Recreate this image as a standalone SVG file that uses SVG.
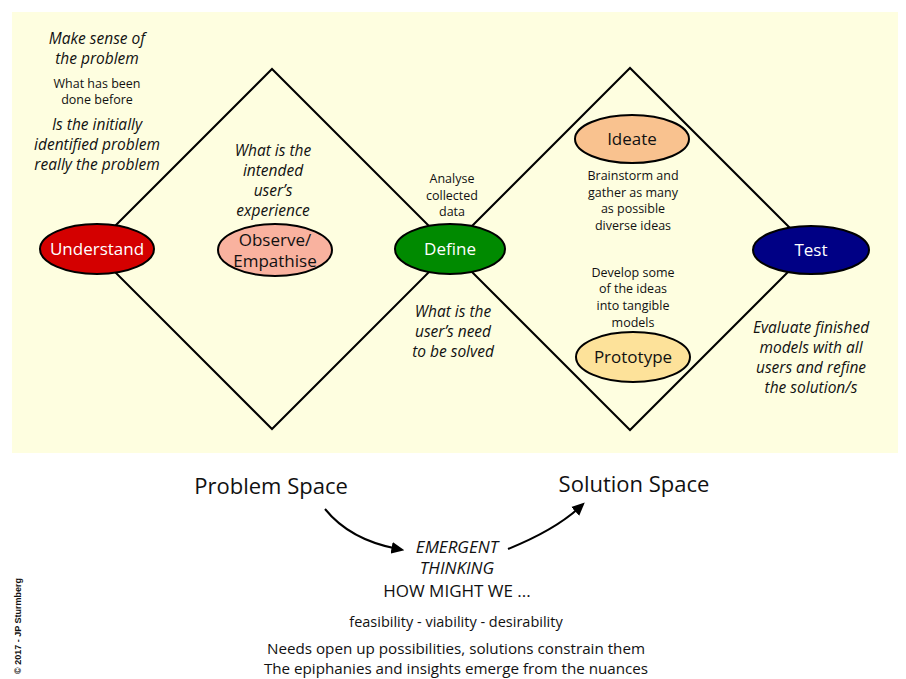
<svg xmlns="http://www.w3.org/2000/svg" width="906" height="679" viewBox="0 0 906 679">
  <style>
    text { font-family: "Open Sans", "Noto Sans", sans-serif; fill: #111; text-anchor: middle; }
    .it { font-style: italic; font-size: 15.5px; }
    .sm { font-size: 12.5px; }
    .lbl { font-size: 17px; }
    .wt { fill: #ffffff; }
    .big { font-size: 22px; }
    .edge { stroke: #000; stroke-width: 2; fill: none; }
    .node { stroke: #000; stroke-width: 2; }
  </style>
  <defs>
    <marker id="head" viewBox="0 0 10 10" refX="5" refY="5" markerWidth="6.5" markerHeight="6.5" orient="auto" markerUnits="strokeWidth">
      <path d="M0,0.5 L10,5 L0,9.5 Z" fill="#000"/>
    </marker>
  </defs>

  <rect width="906" height="679" fill="#ffffff"/>
  <rect x="12" y="12" width="886" height="441" fill="#fefee0"/>

  <!-- double diamond and the two flow arrows -->
  <g id="connectors">
    <path class="edge" d="M92,249 L272,69 L452,249 L272,429 Z"/>
    <path class="edge" d="M449,249 L630,68 L811,249 L630,430 Z"/>
    <path class="edge" d="M325,509 Q350,540 398,549" stroke-width="2.5" marker-end="url(#head)"/>
    <path class="edge" d="M508,549 Q555,530 580,507" stroke-width="2.5" marker-end="url(#head)"/>
  </g>

  <g id="understand">
    <ellipse class="node" cx="97" cy="249" rx="57" ry="25" fill="#d40000"/>
    <text class="lbl wt" x="97" y="255">Understand</text>
  </g>
  <g id="observe">
    <ellipse class="node" cx="275" cy="250" rx="57" ry="26" fill="#f9b29f"/>
    <text class="lbl" x="275" y="246">Observe/</text>
    <text class="lbl" x="275" y="267">Empathise</text>
  </g>
  <g id="define">
    <ellipse class="node" cx="450" cy="249" rx="55" ry="25" fill="#008a00"/>
    <text class="lbl wt" x="450" y="255">Define</text>
  </g>
  <g id="ideate">
    <ellipse class="node" cx="632" cy="139" rx="57" ry="24" fill="#f9c28f"/>
    <text class="lbl" x="632" y="145">Ideate</text>
  </g>
  <g id="prototype">
    <ellipse class="node" cx="633" cy="357" rx="57" ry="25" fill="#fde29a"/>
    <text class="lbl" x="633" y="363">Prototype</text>
  </g>
  <g id="test">
    <ellipse class="node" cx="811" cy="250" rx="58" ry="24" fill="#000085"/>
    <text class="lbl wt" x="811" y="256">Test</text>
  </g>

  <g id="notes-understand">
    <text class="it" x="97" y="44">Make sense of</text>
    <text class="it" x="97" y="64">the problem</text>
    <text class="sm" x="97" y="88">What has been</text>
    <text class="sm" x="97" y="104">done before</text>
    <text class="it" x="97" y="130">Is the initially</text>
    <text class="it" x="97" y="150">identified problem</text>
    <text class="it" x="97" y="170">really the problem</text>
  </g>
  <g id="notes-observe">
    <text class="it" x="273" y="156">What is the</text>
    <text class="it" x="273" y="176">intended</text>
    <text class="it" x="273" y="196">user’s</text>
    <text class="it" x="273" y="216">experience</text>
  </g>
  <g id="notes-define">
    <text class="sm" x="452" y="183">Analyse</text>
    <text class="sm" x="452" y="200">collected</text>
    <text class="sm" x="452" y="216">data</text>
    <text class="it" x="453" y="317">What is the</text>
    <text class="it" x="453" y="337">user’s need</text>
    <text class="it" x="453" y="357">to be solved</text>
  </g>
  <g id="notes-ideate">
    <text class="sm" x="633" y="180">Brainstorm and</text>
    <text class="sm" x="633" y="197">gather as many</text>
    <text class="sm" x="633" y="213">as possible</text>
    <text class="sm" x="633" y="230">diverse ideas</text>
  </g>
  <g id="notes-prototype">
    <text class="sm" x="633" y="277">Develop some</text>
    <text class="sm" x="633" y="293">of the ideas</text>
    <text class="sm" x="633" y="310">into tangible</text>
    <text class="sm" x="633" y="327">models</text>
  </g>
  <g id="notes-test">
    <text class="it" x="811" y="333">Evaluate finished</text>
    <text class="it" x="811" y="353">models with all</text>
    <text class="it" x="811" y="373">users and refine</text>
    <text class="it" x="811" y="393">the solution/s</text>
  </g>

  <g id="spaces">
    <text class="big" x="271" y="494">Problem Space</text>
    <text class="big" x="634" y="492">Solution Space</text>
    <text font-size="17" font-style="italic" x="457" y="553">EMERGENT</text>
    <text font-size="17" font-style="italic" x="457" y="574">THINKING</text>
    <text font-size="17" x="457" y="597">HOW MIGHT WE ...</text>
    <text font-size="14.5" x="456" y="627">feasibility - viability - desirability</text>
    <text font-size="15.2" x="456" y="654">Needs open up possibilities, solutions constrain them</text>
    <text font-size="15.2" x="456" y="674">The epiphanies and insights emerge from the nuances</text>
  </g>

  <text transform="translate(21,626) rotate(-90)" font-weight="bold" font-size="9" style="font-family:'Liberation Sans', Arial, sans-serif">© 2017 - JP Sturmberg</text>
</svg>
